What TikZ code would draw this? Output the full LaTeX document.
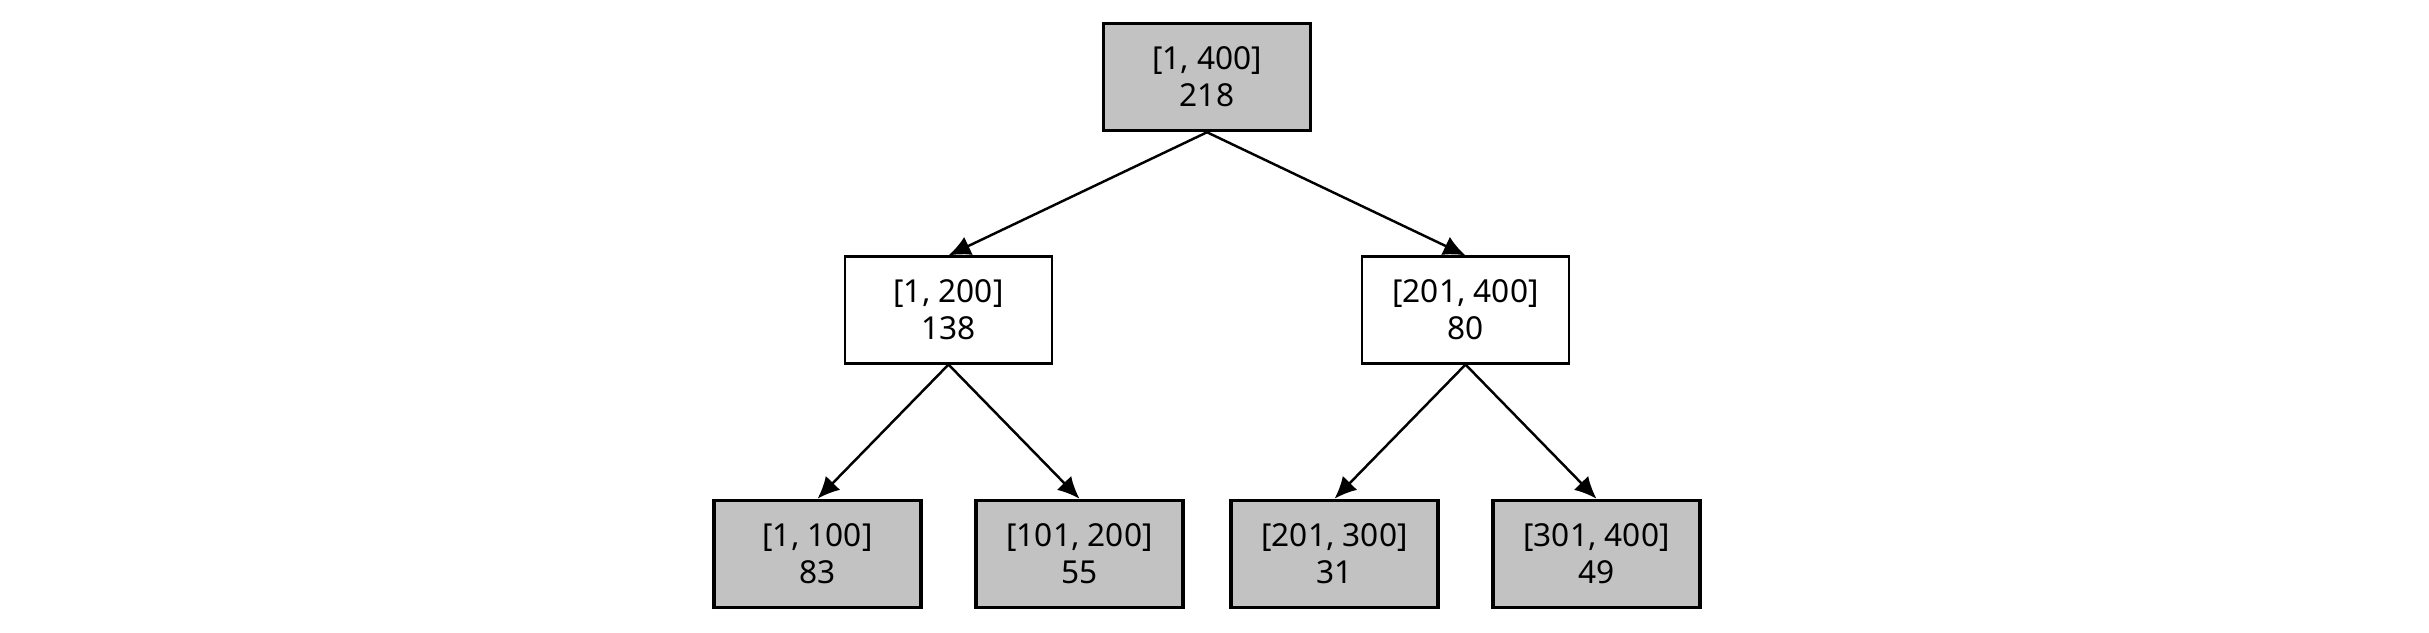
\documentclass[tikz,border=0pt]{standalone}
\usepackage{fontspec}
\setmainfont{Noto Sans}
\usetikzlibrary{positioning, arrows.meta}

\tikzset{
  segbox/.style={draw, line width=0.6pt, minimum width=2.07cm, minimum height=1.07cm,
    align=center, inner sep=2pt, font=\fontsize{9}{10.5}\selectfont},
  shaded/.style={segbox, fill=gray!48, line width=1pt},
  plain/.style={segbox, fill=white}
}

\begin{document}
\begin{tikzpicture}[
    level 1/.style={sibling distance=5.17cm, level distance=2.33cm},
    level 2/.style={sibling distance=2.62cm, level distance=2.44cm},
    edge from parent/.style={draw, line width=0.7pt, -{Latex[length=2.2mm, width=2mm]}},
    edge from parent path={(\tikzparentnode.south) -- (\tikzchildnode.north)}
]
\useasboundingbox (0,0) rectangle (24.29,-6.32);
  % segment tree over [1, 400]
  \node[shaded] (root) at (12.07,-0.77) {[1, 400]\\218}
    child {node[plain] (left) {[1, 200]\\138}
      child {node[shaded] (ll) {[1, 100]\\83}}
      child {node[shaded] (lr) {[101, 200]\\55}}
    }
    child {node[plain] (right) {[201, 400]\\80}
      child {node[shaded] (rl) {[201, 300]\\31}}
      child {node[shaded] (rr) {[301, 400]\\49}}
    };
\end{tikzpicture}
\end{document}
